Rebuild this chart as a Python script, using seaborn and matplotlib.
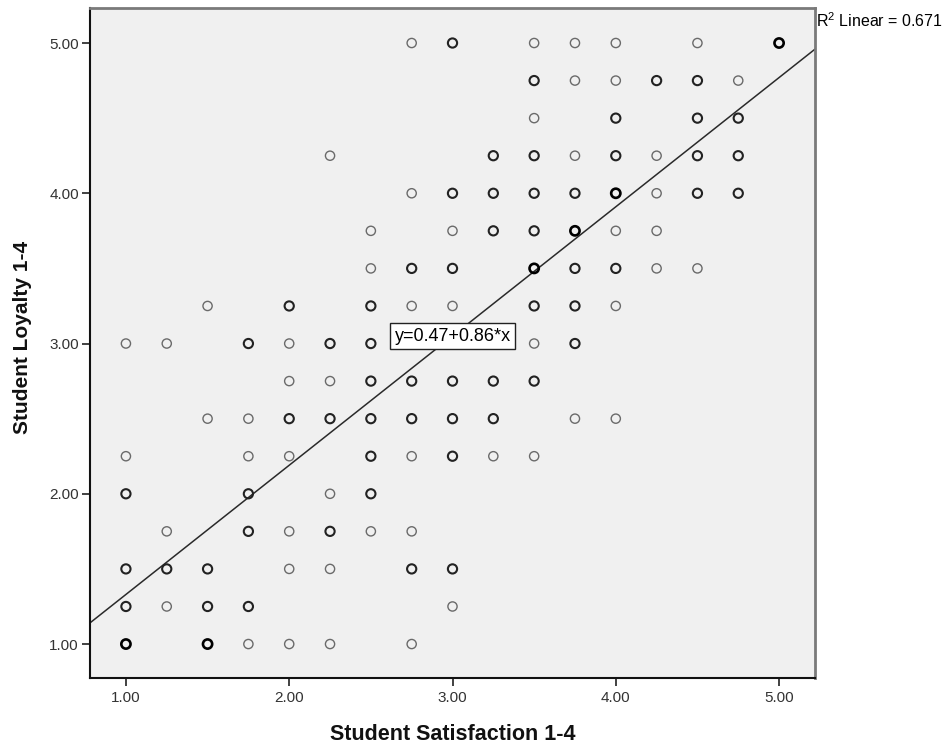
import matplotlib
matplotlib.use("Agg")
import matplotlib.pyplot as plt
import seaborn as sns
import pandas as pd

# ---- data (x = satisfaction, y = loyalty, n = estimated overlapping cases)
satisfaction = [
    2.75, 3.00, 3.50, 3.75, 4.00, 4.50, 5.00,
    3.50, 3.75, 4.00, 4.25, 4.50, 4.75,
    3.50, 4.00, 4.50, 4.75,
    2.25, 3.25, 3.50, 3.75, 4.00, 4.25, 4.50, 4.75,
    2.75, 3.00, 3.25, 3.50, 3.75, 4.00, 4.25, 4.50, 4.75,
    2.50, 3.00, 3.25, 3.50, 3.75, 4.00, 4.25,
    2.50, 2.75, 3.00, 3.50, 3.75, 4.00, 4.25, 4.50,
    1.50, 2.00, 2.50, 2.75, 3.00, 3.50, 3.75, 4.00,
    1.00, 1.25, 1.75, 2.00, 2.25, 2.50, 3.50, 3.75,
    2.00, 2.25, 2.50, 2.75, 3.00, 3.25, 3.50,
    1.50, 1.75, 2.00, 2.25, 2.50, 2.75, 3.00, 3.25, 3.75, 4.00,
    1.00, 1.75, 2.00, 2.50, 2.75, 3.00, 3.25, 3.50,
    1.00, 1.75, 2.25, 2.50,
    1.25, 1.75, 2.00, 2.25, 2.50, 2.75,
    1.00, 1.25, 1.50, 2.00, 2.25, 2.75, 3.00,
    1.00, 1.25, 1.50, 1.75, 3.00,
    1.00, 1.50, 1.75, 2.00, 2.25, 2.75,
]
loyalty = (
    [5.00] * 7 + [4.75] * 6 + [4.50] * 4 + [4.25] * 8 + [4.00] * 9 +
    [3.75] * 7 + [3.50] * 8 + [3.25] * 8 + [3.00] * 8 + [2.75] * 7 +
    [2.50] * 10 + [2.25] * 8 + [2.00] * 4 + [1.75] * 6 + [1.50] * 7 +
    [1.25] * 5 + [1.00] * 6
)
overlap = [
    1, 2, 1, 1, 1, 1, 3,
    2, 1, 1, 2, 2, 1,
    1, 2, 2, 2,
    1, 2, 2, 1, 2, 1, 2, 2,
    1, 2, 2, 2, 2, 3, 1, 2, 2,
    1, 1, 2, 2, 3, 1, 1,
    1, 2, 2, 3, 2, 2, 1, 1,
    1, 2, 2, 1, 1, 2, 2, 1,
    1, 1, 2, 1, 2, 2, 1, 2,
    1, 1, 2, 2, 2, 2, 2,
    1, 1, 2, 2, 2, 2, 2, 2, 1, 1,
    1, 1, 1, 2, 1, 2, 1, 1,
    2, 2, 1, 2,
    1, 2, 1, 2, 1, 1,
    2, 2, 2, 1, 1, 2, 2,
    2, 1, 2, 2, 1,
    3, 3, 1, 1, 1, 1,
]

intercept = 0.47
slope = 0.86
r_squared = 0.671

tick_values = [1.0, 2.0, 3.0, 4.0, 5.0]
tick_labels = ["1.00", "2.00", "3.00", "4.00", "5.00"]
x_label = "Student Satisfaction 1-4"
y_label = "Student Loyalty 1-4"

# ---- styling
sns.set_theme(style="white")
plt.rcParams["font.family"] = ["Liberation Sans", "DejaVu Sans"]
plt.rcParams["mathtext.fontset"] = "custom"
plt.rcParams["mathtext.rm"] = "Liberation Sans"

W, H = 950, 751
fig = plt.figure(figsize=(W / 100, H / 100), dpi=100)
fig.patch.set_facecolor("white")
ax = fig.add_axes([90 / W, 73 / H, 725 / W, 670 / H])
ax.set_facecolor("#F0F0F0")

df = pd.DataFrame({"sat": satisfaction, "loy": loyalty, "n": overlap})

styles = {1: ("#6a6a6a", 1.0), 2: ("#222222", 1.5), 3: ("#000000", 1.9)}
for k, (col, lw) in styles.items():
    sub = df[df["n"] == k]
    sns.scatterplot(data=sub, x="sat", y="loy", ax=ax, marker="o", s=44,
                    facecolors="none", edgecolor=col, linewidth=lw,
                    legend=False, zorder=3)

ax.set_xlim(0.78, 5.22)
ax.set_ylim(0.774, 5.233)

# fit line
ax.axline((0, intercept), slope=slope, color="#2a2a2a", lw=1.1, zorder=2)

ax.text(3.0, 3.05, f"y={intercept:.2f}+{slope:.2f}*x", ha="center", va="center",
        fontsize=13, color="black", zorder=5,
        bbox=dict(boxstyle="square,pad=0.25", fc="white", ec="#222222", lw=1.0))

fig.text(816 / W, 1 - 21 / H, f"R$^2$ Linear = {r_squared:.3f}", ha="left",
         va="center", fontsize=11.5, color="black")

ax.set_xticks(tick_values)
ax.set_xticklabels(tick_labels)
ax.set_yticks(tick_values)
ax.set_yticklabels(tick_labels)
ax.tick_params(axis="both", direction="out", length=6, width=1.3, color="#333333",
               labelsize=11, labelcolor="#333333", bottom=True, left=True,
               top=False, right=False)
ax.tick_params(axis="x", pad=3)
ax.tick_params(axis="y", pad=2)

for side in ["left", "bottom"]:
    ax.spines[side].set_color("#111111")
    ax.spines[side].set_linewidth(1.5)
for side in ["top", "right"]:
    ax.spines[side].set_color("#7a7a7a")
    ax.spines[side].set_linewidth(2.0)

ax.set_xlabel(x_label, fontsize=15.5, fontweight="bold", color="#111111", va="center")
ax.set_ylabel(y_label, fontsize=15, fontweight="bold", color="#111111", va="center")
ax.xaxis.set_label_coords((453 - 90) / 725, (678 - 735) / 670)
ax.yaxis.set_label_coords((23 - 90) / 725, (678 - 337) / 670)

fig.savefig("out.png", dpi=100)
